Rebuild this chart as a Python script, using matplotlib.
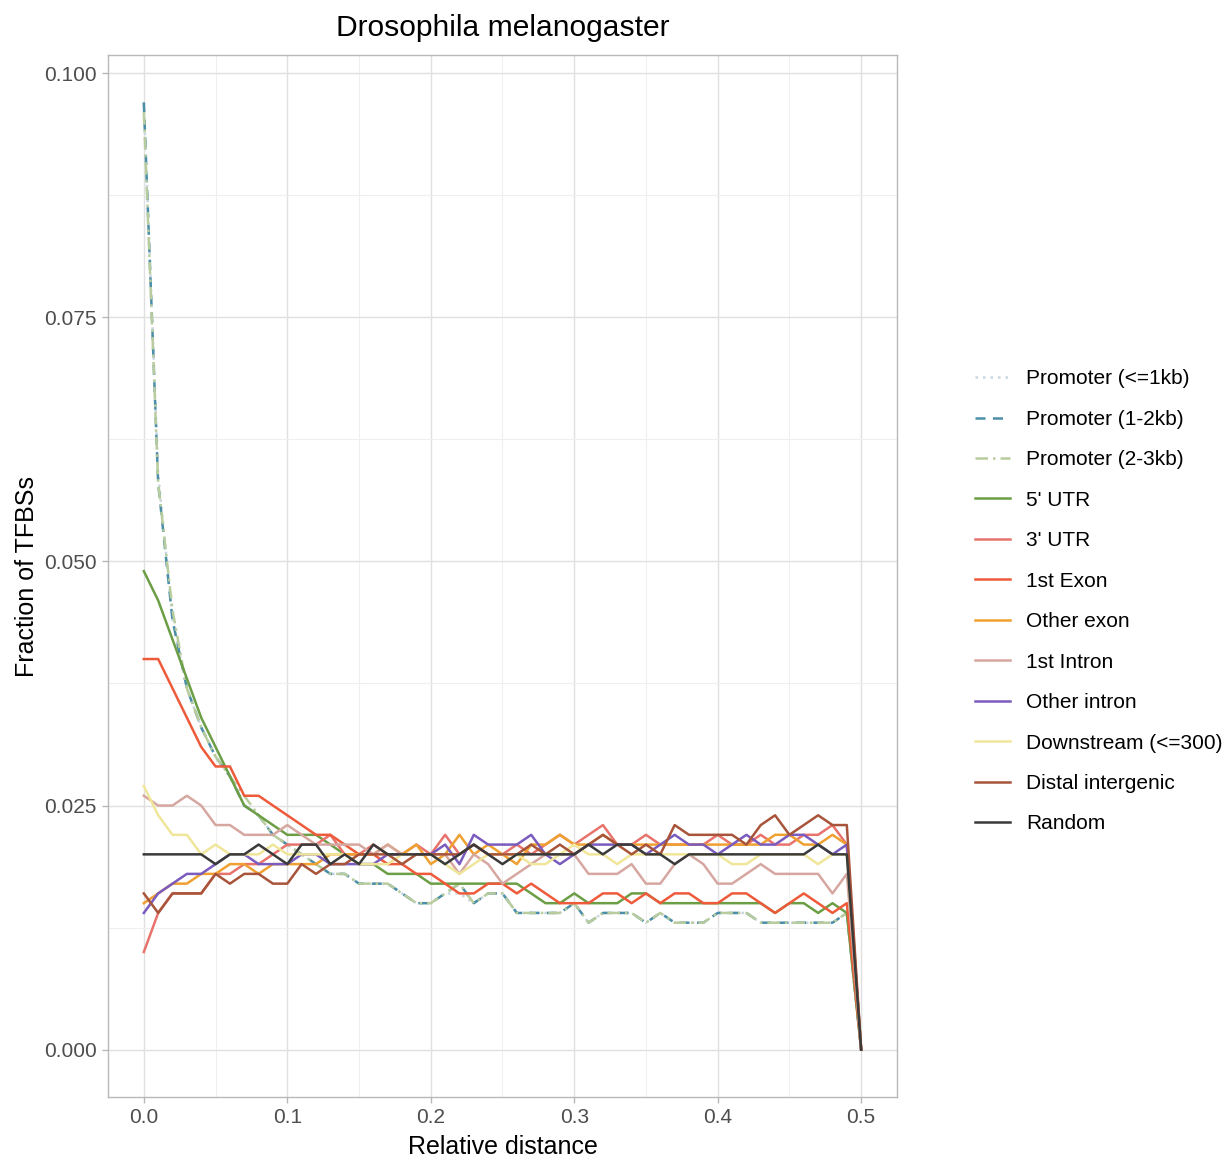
import numpy as np
import matplotlib
matplotlib.use('Agg')
import matplotlib.pyplot as plt
from matplotlib.ticker import MultipleLocator, FormatStrFormatter

plt.rcParams['font.family'] = ['Liberation Sans', 'DejaVu Sans']

# Distancia relativa (0 a 0.5 en pasos de 0.01)
rel_dist = np.linspace(0, 0.5, 51)

# Fracción de TFBSs por región (en milésimas)
prom_1kb = [97, 59, 44, 37, 33, 30, 28, 25, 24, 22, 21, 20, 19, 18, 18, 17, 17, 17, 16, 15,
            15, 16, 16, 15, 16, 16, 14, 14, 14, 14, 15, 13, 14, 14, 14, 13, 14, 13, 13, 13,
            14, 14, 14, 13, 13, 13, 13, 13, 13, 14, 0]
prom_1_2kb = [97, 58, 44, 37, 33, 30, 28, 25, 24, 22, 21, 20, 19, 18, 18, 17, 17, 17, 16, 15,
              15, 16, 17, 15, 16, 16, 14, 14, 14, 14, 15, 13, 14, 14, 14, 13, 14, 13, 13, 13,
              14, 14, 14, 13, 13, 13, 13, 13, 13, 14, 0]
prom_2_3kb = [96, 58, 45, 37, 33, 30, 28, 26, 24, 22, 21, 20, 19, 18, 18, 17, 17, 17, 16, 15,
              15, 16, 17, 15, 16, 16, 14, 14, 14, 14, 15, 13, 14, 14, 14, 13, 14, 13, 13, 13,
              14, 14, 14, 13, 13, 13, 13, 13, 13, 14, 0]
utr5 = [49, 46, 42, 38, 34, 31, 28, 25, 24, 23, 22, 22, 22, 21, 20, 19, 19, 18, 18, 18,
        17, 17, 17, 17, 17, 17, 17, 16, 15, 15, 16, 15, 15, 15, 16, 16, 15, 15, 15, 15,
        15, 15, 15, 15, 14, 15, 15, 14, 15, 14, 0]
utr3 = [10, 14, 16, 16, 16, 18, 18, 19, 19, 20, 21, 21, 21, 22, 20, 20, 21, 20, 20, 21,
        20, 22, 20, 21, 20, 20, 21, 20, 21, 22, 21, 22, 23, 21, 21, 22, 21, 21, 21, 21,
        22, 21, 21, 22, 21, 21, 22, 22, 23, 21, 0]
exon1 = [40, 40, 37, 34, 31, 29, 29, 26, 26, 25, 24, 23, 22, 22, 21, 20, 20, 19, 19, 18,
         18, 17, 16, 16, 17, 17, 16, 17, 16, 15, 15, 15, 16, 16, 15, 16, 15, 16, 16, 15,
         15, 16, 16, 15, 14, 15, 16, 15, 14, 15, 0]
exon_other = [15, 16, 17, 17, 18, 18, 19, 19, 18, 19, 19, 19, 19, 20, 20, 20, 20, 21, 20, 21,
              19, 20, 22, 20, 21, 20, 19, 21, 21, 22, 21, 21, 22, 21, 21, 21, 21, 21, 21, 21,
              21, 21, 21, 21, 22, 22, 21, 21, 22, 21, 0]
intron1 = [26, 25, 25, 26, 25, 23, 23, 22, 22, 22, 23, 22, 21, 21, 21, 21, 20, 21, 20, 20,
           20, 20, 18, 20, 19, 17, 18, 19, 20, 20, 20, 18, 18, 18, 19, 17, 17, 19, 20, 19,
           17, 17, 18, 19, 18, 18, 18, 18, 16, 18, 0]
intron_other = [14, 16, 17, 18, 18, 19, 20, 20, 19, 19, 19, 20, 20, 19, 19, 19, 19, 20, 20, 20,
                20, 21, 19, 22, 21, 21, 21, 22, 20, 19, 20, 21, 21, 21, 21, 20, 21, 22, 21, 21,
                20, 21, 22, 21, 21, 22, 22, 21, 20, 21, 0]
downstream = [27, 24, 22, 22, 20, 21, 20, 20, 20, 21, 20, 20, 20, 20, 20, 19, 19, 19, 20, 20,
              20, 19, 18, 19, 20, 20, 20, 19, 19, 20, 21, 20, 20, 19, 20, 20, 20, 20, 20, 20,
              20, 19, 19, 20, 20, 20, 20, 19, 20, 20, 0]
distal = [16, 14, 16, 16, 16, 18, 17, 18, 18, 17, 17, 19, 18, 19, 19, 20, 20, 20, 19, 20,
          20, 20, 20, 21, 20, 20, 20, 21, 20, 21, 20, 21, 22, 21, 20, 21, 20, 23, 22, 22,
          22, 22, 21, 23, 24, 22, 23, 24, 23, 23, 0]
random_bg = [20, 20, 20, 20, 20, 19, 20, 20, 21, 20, 19, 21, 21, 19, 20, 19, 21, 20, 20, 20,
             20, 19, 20, 21, 20, 19, 20, 20, 20, 20, 20, 21, 20, 21, 21, 20, 20, 19, 20, 20,
             20, 20, 20, 20, 20, 20, 20, 21, 20, 20, 0]

labels = ['Promoter (<=1kb)', 'Promoter (1-2kb)', 'Promoter (2-3kb)', "5' UTR", "3' UTR",
          '1st Exon', 'Other exon', '1st Intron', 'Other intron', 'Downstream (<=300)',
          'Distal intergenic', 'Random']
series = [prom_1kb, prom_1_2kb, prom_2_3kb, utr5, utr3, exon1, exon_other, intron1,
          intron_other, downstream, distal, random_bg]
colors = ['#C9D6DE', '#4A8EA8', '#B9CC9E', '#6B9E45', '#E8736C', '#EE5A3A', '#F0A030',
          '#D6A7A0', '#7A5BBE', '#F0E69A', '#A8543A', '#3A3A3A']
styles = [(0, (1, 2)), (0, (4, 3)), (0, (5, 2, 1, 2)), '-', '-', '-', '-', '-', '-', '-', '-', '-']

fig = plt.figure(figsize=(12.31, 11.61), dpi=100)
ax = fig.add_axes([0.0877, 0.0551, 0.641, 0.8975])

for vals, lab, col, ls in zip(series, labels, colors, styles):
    ax.plot(rel_dist, np.array(vals) / 1000, color=col, linestyle=ls, lw=1.8, label=lab)

ax.set_xlim(-0.025, 0.525)
ax.set_ylim(-0.00485, 0.10185)
ax.xaxis.set_major_locator(MultipleLocator(0.1))
ax.xaxis.set_minor_locator(MultipleLocator(0.05))
ax.yaxis.set_major_locator(MultipleLocator(0.025))
ax.yaxis.set_minor_locator(MultipleLocator(0.0125))
ax.xaxis.set_major_formatter(FormatStrFormatter('%.1f'))
ax.yaxis.set_major_formatter(FormatStrFormatter('%.3f'))

ax.grid(which='major', color='#E0E0E0', lw=1.0)
ax.grid(which='minor', color='#EFEFEF', lw=0.8)
ax.set_axisbelow(True)
for s in ax.spines.values():
    s.set_color('#B8B8B8')
    s.set_linewidth(1.0)
ax.tick_params(which='major', direction='out', length=4, width=1, color='#B8B8B8',
               labelsize=15, labelcolor='#4D4D4D', pad=4)
ax.tick_params(which='minor', length=0)

ax.set_xlabel('Relative distance', fontsize=18, labelpad=6)
ax.set_ylabel('Fraction of TFBSs', fontsize=18, labelpad=4)
ax.set_title('Drosophila melanogaster', fontsize=21.6, pad=14)

fig.legend(loc='center left', bbox_to_anchor=(0.792, 0.482), frameon=False, fontsize=15,
           handlelength=1.7, handletextpad=0.75, labelspacing=1.03, borderpad=0,
           borderaxespad=0)

fig.savefig('out.png', dpi=100)
